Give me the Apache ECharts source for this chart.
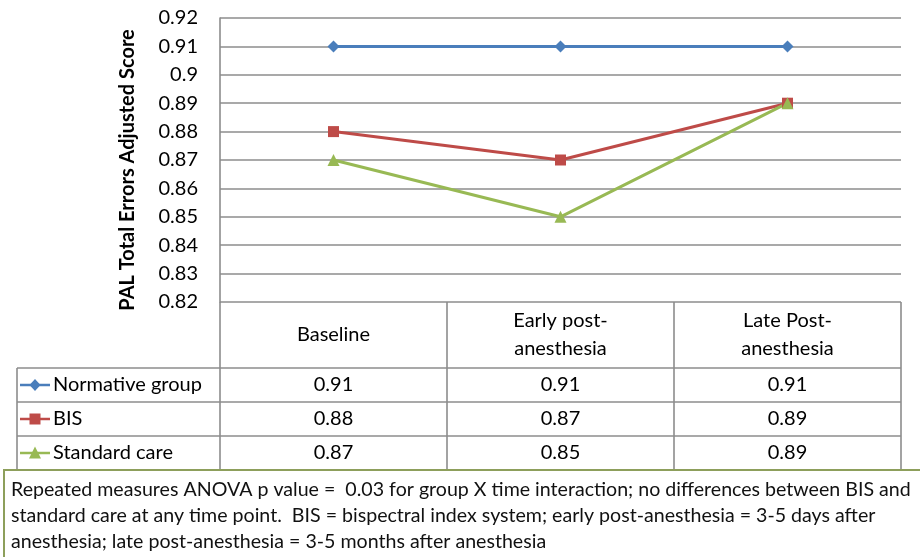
<!DOCTYPE html>
<html>
<head>
<meta charset="utf-8">
<script src="https://cdn.jsdelivr.net/npm/echarts@6/dist/echarts.min.js"></script>
<style>
  html, body { margin: 0; padding: 0; background: #fff; }
  #chart { width: 920px; height: 557px; }
</style>
</head>
<body>
<div id="chart"></div>
<script>
// Time points (column headers of the data table)
const categories = ['Baseline', 'Early post-\nanesthesia', 'Late Post-\nanesthesia'];

// PAL total errors adjusted score per group
const seriesNames = ['Normative group', 'BIS', 'Standard care'];
const normativeGroup = [0.91, 0.91, 0.91];
const bisGroup = [0.88, 0.87, 0.89];
const standardCare = [0.87, 0.85, 0.89];

// Value axis range
const yMin = 0.82;
const yMax = 0.92;
const yStep = 0.01;

const footnote = 'Repeated measures ANOVA p value =  0.03 for group X time interaction; no differences between BIS and\n' +
  'standard care at any time point.  BIS = bispectral index system; early post-anesthesia = 3-5 days after\n' +
  'anesthesia; late post-anesthesia = 3-5 months after anesthesia';

const FONT = 'Lato, "Liberation Sans", sans-serif';
const GRID_COLOR = '#8c8c8c';
const colors = ['#4a7ebb', '#be4b48', '#98b954'];

const chart = echarts.init(document.getElementById('chart'));

const option = {
  backgroundColor: '#ffffff',
  animation: false,
  textStyle: { fontFamily: FONT },
  grid: { left: 220, right: 19, top: 18, bottom: 255 },
  xAxis: {
    type: 'category',
    data: categories,
    boundaryGap: true,
    axisLine: { show: false },
    axisTick: { show: false },
    axisLabel: {
      interval: 0,
      margin: 33,
      verticalAlign: 'middle',
      lineHeight: 28,
      fontSize: 20,
      color: '#000',
      fontFamily: FONT
    }
  },
  yAxis: {
    type: 'value',
    min: yMin,
    max: yMax,
    interval: yStep,
    name: 'PAL Total Errors Adjusted Score',
    nameLocation: 'middle',
    nameRotate: 90,
    nameGap: 82,
    nameTextStyle: {
      fontFamily: FONT, fontSize: 20, fontWeight: 'bold', color: '#000',
      padding: [0, 20, 0, 0]
    },
    axisLine: { show: true, lineStyle: { color: GRID_COLOR, width: 1.6 } },
    axisTick: { show: false },
    axisLabel: { margin: 22, fontSize: 20, color: '#000', fontFamily: FONT },
    splitLine: { show: true, lineStyle: { color: GRID_COLOR, width: 1.6 } }
  },
  series: [
    {
      name: seriesNames[0], type: 'line', data: normativeGroup,
      symbol: 'diamond', symbolSize: 12,
      itemStyle: { color: colors[0] },
      lineStyle: { color: colors[0], width: 3 }
    },
    {
      name: seriesNames[1], type: 'line', data: bisGroup,
      symbol: 'rect', symbolSize: 11,
      itemStyle: { color: colors[1] },
      lineStyle: { color: colors[1], width: 3 }
    },
    {
      name: seriesNames[2], type: 'line', data: standardCare,
      symbol: 'triangle', symbolSize: 12,
      itemStyle: { color: colors[2] },
      lineStyle: { color: colors[2], width: 3 }
    }
  ]
};

chart.setOption(option);

// Small line-with-marker key drawn in front of a row label
function keyIcon(cx, cy, i) {
  const els = [{
    type: 'line', silent: true,
    shape: { x1: cx - 15, y1: cy, x2: cx + 15, y2: cy },
    style: { stroke: colors[i], lineWidth: 2.5 }
  }];
  const s = 5.5;
  let shape;
  if (i === 0) {
    shape = { type: 'polygon', shape: { points: [[cx, cy - s - 0.5], [cx + s, cy], [cx, cy + s + 0.5], [cx - s, cy]] } };
  } else if (i === 1) {
    shape = { type: 'rect', shape: { x: cx - s, y: cy - s, width: 2 * s, height: 2 * s } };
  } else {
    shape = { type: 'polygon', shape: { points: [[cx, cy - s - 1], [cx + s + 0.5, cy + s], [cx - s - 0.5, cy + s]] } };
  }
  shape.silent = true;
  shape.style = { fill: colors[i] };
  els.push(shape);
  return els;
}

// Data table under the plot, aligned on the category axis
function buildTable() {
  const values = [normativeGroup, bisGroup, standardCare];
  const centers = categories.map((c, i) => chart.convertToPixel({ xAxisIndex: 0 }, i));
  const band = centers[1] - centers[0];
  const edges = [centers[0] - band / 2].concat(centers.map(c => c + band / 2));
  const tableTop = chart.convertToPixel({ yAxisIndex: 0 }, yMin);
  const headerBottom = 368;
  const rowH = 34;
  const labelLeft = 17;
  const tableBottom = headerBottom + rowH * values.length;
  const lineStyle = { stroke: GRID_COLOR, lineWidth: 1.6 };

  const els = [];
  edges.forEach(x => {
    els.push({ type: 'line', shape: { x1: x, y1: tableTop, x2: x, y2: tableBottom }, style: lineStyle, silent: true });
  });
  els.push({ type: 'line', shape: { x1: labelLeft, y1: headerBottom, x2: labelLeft, y2: tableBottom }, style: lineStyle, silent: true });
  for (let r = 0; r <= values.length; r++) {
    const y = headerBottom + r * rowH;
    els.push({ type: 'line', shape: { x1: labelLeft, y1: y, x2: edges[edges.length - 1], y2: y }, style: lineStyle, silent: true });
  }
  values.forEach((row, r) => {
    const cy = headerBottom + r * rowH + rowH / 2;
    // row header: series key + name
    keyIcon(labelLeft + 18, cy, r).forEach(e => els.push(e));
    els.push({
      type: 'text', silent: true,
      x: labelLeft + 36, y: cy,
      style: { text: seriesNames[r], fill: '#000', font: '20px ' + FONT, textAlign: 'left', textVerticalAlign: 'middle' }
    });
    row.forEach((v, c) => {
      els.push({
        type: 'text', silent: true,
        x: centers[c], y: cy,
        style: { text: v.toFixed(2), fill: '#000', font: '20px ' + FONT, textAlign: 'center', textVerticalAlign: 'middle' }
      });
    });
  });

  // Footnote box
  els.push({
    type: 'rect', silent: true,
    shape: { x: 4, y: tableBottom, width: 960, height: 120 },
    style: { fill: '#fff', stroke: '#8d9f5b', lineWidth: 2 }
  });
  els.push({
    type: 'text', silent: true,
    x: 11, y: tableBottom + 7,
    style: { text: footnote, fill: '#111', font: '19.6px ' + FONT, lineHeight: 26, textAlign: 'left', textVerticalAlign: 'top' }
  });

  chart.setOption({ graphic: { elements: els } });
}
buildTable();
</script>
</body>
</html>
